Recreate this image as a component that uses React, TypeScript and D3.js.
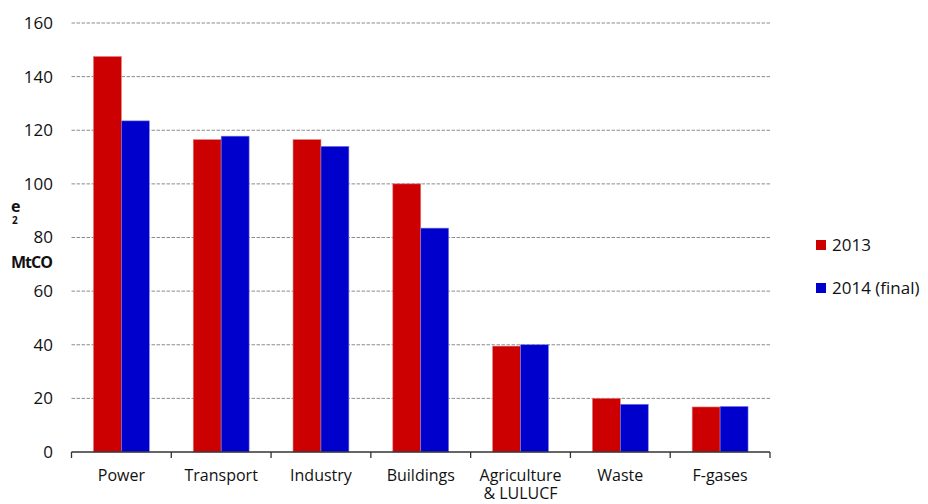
import { useEffect, useRef } from 'react'
import * as d3 from 'd3'

const categories = ['Power', 'Transport', 'Industry', 'Buildings', 'Agriculture\n& LULUCF', 'Waste', 'F-gases']
const values2013 = [147.5, 116.5, 116.5, 100, 39.5, 20, 16.8]
const values2014 = [123.5, 117.8, 114, 83.5, 40, 17.8, 17]
const seriesNames = ['2013', '2014 (final)']
const seriesColors = ['#cc0000', '#0000cc']
const yTicks = [0, 20, 40, 60, 80, 100, 120, 140, 160]

export default function App() {
  const svgRef = useRef<SVGSVGElement>(null)

  useEffect(() => {
    if (!svgRef.current) return
    const svg = d3.select(svgRef.current)
    svg.selectAll('*').remove()

    const width = 928
    const height = 504
    const margin = { top: 23, right: 158, bottom: 52, left: 71.5 }
    const innerHeight = height - margin.top - margin.bottom
    const font = '"Open Sans", "Noto Sans", sans-serif'

    const x = d3.scaleBand<string>()
      .domain(categories)
      .range([margin.left, width - margin.right])
      .paddingInner(0.44)
      .paddingOuter(0.22)

    const xSub = d3.scaleBand<number>()
      .domain([0, 1])
      .range([0, x.bandwidth()])

    const y = d3.scaleLinear()
      .domain([0, 160])
      .range([margin.top + innerHeight, margin.top])

    const step = x.step()
    const left = margin.left
    const right = width - margin.right

    // gridlines
    svg.append('g')
      .selectAll('line')
      .data(yTicks.filter(d => d > 0))
      .join('line')
      .attr('x1', left)
      .attr('x2', right)
      .attr('y1', d => y(d))
      .attr('y2', d => y(d))
      .attr('stroke', '#8c8c8c')
      .attr('stroke-width', 1)
      .attr('stroke-dasharray', '3.5 1.5')

    // y labels
    svg.append('g')
      .selectAll('text')
      .data(yTicks)
      .join('text')
      .attr('x', 53)
      .attr('y', d => y(d))
      .attr('dy', '0.35em')
      .attr('text-anchor', 'end')
      .attr('font-family', font)
      .attr('font-size', 17)
      .attr('fill', '#111')
      .text(d => d)

    // y title (broken layout as in the original)
    const title = svg.append('g')
      .attr('font-family', font)
      .attr('font-weight', 'bold')
      .attr('fill', '#111')
    title.append('text')
      .attr('x', 11)
      .attr('y', 268)
      .attr('font-size', 16)
      .attr('textLength', 42)
      .text('MtCO')
    title.append('text')
      .attr('x', 11)
      .attr('y', 212)
      .attr('font-size', 16)
      .text('e')
    title.append('text')
      .attr('x', 12)
      .attr('y', 224)
      .attr('font-size', 10)
      .text('2')

    // bars
    const series = [values2013, values2014]
    series.forEach((vals, si) => {
      svg.append('g')
        .selectAll('rect')
        .data(vals)
        .join('rect')
        .attr('x', (_, i) => (x(categories[i]) ?? 0) + (xSub(si) ?? 0))
        .attr('y', d => y(d))
        .attr('width', xSub.bandwidth())
        .attr('height', d => y(0) - y(d))
        .attr('fill', seriesColors[si])
        .attr('stroke', si === 0 ? '#e08080' : '#8080e8')
        .attr('stroke-width', 0.6)
    })

    // x axis line and ticks
    svg.append('line')
      .attr('x1', left)
      .attr('x2', right)
      .attr('y1', y(0))
      .attr('y2', y(0))
      .attr('stroke', '#333')
      .attr('stroke-width', 1.3)

    svg.append('g')
      .selectAll('line')
      .data(d3.range(categories.length + 1))
      .join('line')
      .attr('x1', i => left + i * step)
      .attr('x2', i => left + i * step)
      .attr('y1', y(0))
      .attr('y2', y(0) + 6)
      .attr('stroke', '#333')
      .attr('stroke-width', 1.3)

    // x labels
    const labels = svg.append('g')
      .selectAll('text')
      .data(categories)
      .join('text')
      .attr('x', d => (x(d) ?? 0) + x.bandwidth() / 2)
      .attr('y', 481)
      .attr('text-anchor', 'middle')
      .attr('font-family', font)
      .attr('font-size', 16)
      .attr('fill', '#111')

    labels.each(function (d) {
      const lines = d.split('\n')
      d3.select(this)
        .selectAll('tspan')
        .data(lines)
        .join('tspan')
        .attr('x', (x(d) ?? 0) + x.bandwidth() / 2)
        .attr('dy', (_, i) => (i === 0 ? 0 : 18))
        .text(l => l)
    })

    // legend
    const legend = svg.append('g')
    seriesNames.forEach((name, i) => {
      const ly = 245 + i * 43
      legend.append('rect')
        .attr('x', 816)
        .attr('y', ly - 5)
        .attr('width', 10)
        .attr('height', 10)
        .attr('fill', seriesColors[i])
      legend.append('text')
        .attr('x', 832)
        .attr('y', ly)
        .attr('dy', '0.35em')
        .attr('font-family', font)
        .attr('font-size', 17)
        .attr('fill', '#111')
        .text(name)
    })
  }, [])

  return <svg ref={svgRef} width={928} height={504} style={{ display: 'block', position: 'absolute', left: 0, top: 0 }} />
}
